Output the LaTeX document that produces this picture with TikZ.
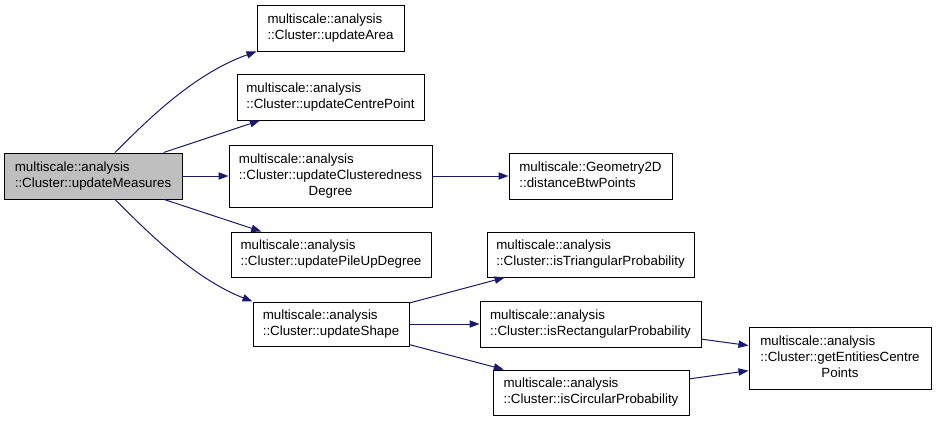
\documentclass[tikz,border=0pt]{standalone}
\usepackage{fontspec}
\setmainfont{Liberation Sans}
\usetikzlibrary{arrows.meta}
\definecolor{edgeblue}{HTML}{191970}
\definecolor{rootgrey}{HTML}{BFBFBF}
% two-line label: first line flush left, last line centred
\newcommand{\lblTwo}[2]{\begin{tabular}{@{}l@{}}#1\\#2\end{tabular}}
\newcommand{\lblThree}[3]{\begin{tabular}{@{}l@{}}#1\\#2\\\multicolumn{1}{@{}c@{}}{#3}\end{tabular}}
% function box given by its corners (x1,y1)-(x2,y2) in pixel units
\newcommand{\fnbox}[7][]{%
  \node[fn,#1,minimum width={(#5-#3)*0.75pt},minimum height={(#6-#4)*0.75pt}]
    (#2) at ({(#3+#5)/2},{(#4+#6)/2}) {#7};}
\begin{document}
\begin{tikzpicture}[x=0.75pt,y=-0.75pt,
  fn/.style={draw=black,rectangle,inner sep=0pt,line width=0.75pt,
             font=\fontsize{10}{12}\selectfont},
  root/.style={fill=rootgrey},
  call/.style={draw=edgeblue,line width=0.75pt,
               -{Triangle[length=7.5pt,width=5.5pt,fill=edgeblue]}}]
\useasboundingbox (0,0) rectangle (936,421);

\fnbox[root]{um}{4}{153}{182}{199}{\lblTwo{multiscale::analysis}{::Cluster::updateMeasures}}
\fnbox{ua}{257}{5}{404}{51}{\lblTwo{multiscale::analysis}{::Cluster::updateArea}}
\fnbox{ucp}{237}{74}{424}{120}{\lblTwo{multiscale::analysis}{::Cluster::updateCentrePoint}}
\fnbox{ucd}{229}{145}{432}{207}{\lblThree{multiscale::analysis}{::Cluster::updateClusteredness}{Degree}}
\fnbox{dbp}{509}{153}{672}{199}{\lblTwo{multiscale::Geometry2D}{::distanceBtwPoints}}
\fnbox{upd}{231}{232}{431}{277}{\lblTwo{multiscale::analysis}{::Cluster::updatePileUpDegree}}
\fnbox{us}{253}{302}{409}{346}{\lblTwo{multiscale::analysis}{::Cluster::updateShape}}
\fnbox{itp}{487}{232}{694}{277}{\lblTwo{multiscale::analysis}{::Cluster::isTriangularProbability}}
\fnbox{irp}{480}{301}{701}{347}{\lblTwo{multiscale::analysis}{::Cluster::isRectangularProbability}}
\fnbox{icp}{493}{370}{689}{415}{\lblTwo{multiscale::analysis}{::Cluster::isCircularProbability}}
\fnbox{gec}{749}{327}{931}{389}{\lblThree{multiscale::analysis}{::Cluster::getEntitiesCentre}{Points}}

% calls made by updateMeasures
\draw[call] ([xshift=16.5pt]um.north) .. controls (140,128) and (190,75) .. (ua.south west);
\draw[call] (um) -- (ucp);
\draw[call] (um) -- (ucd);
\draw[call] (um) -- (upd);
\draw[call] ([xshift=16.5pt]um.south) .. controls (140,224) and (190,277) .. (us.north west);

% deeper calls
\draw[call] (ucd) -- (dbp);
\draw[call] (us) -- (itp);
\draw[call] (us) -- (irp);
\draw[call] (us) -- (icp);
\draw[call] (irp) -- (gec);
\draw[call] (icp) -- (gec);
\end{tikzpicture}
\end{document}
